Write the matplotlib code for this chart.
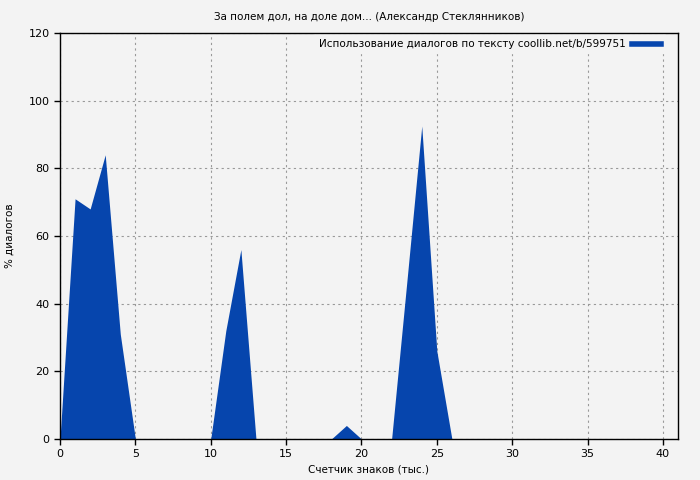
import matplotlib
matplotlib.use("Agg")
import matplotlib.pyplot as plt

# Data
chars_k = list(range(0, 41))
dialog_pct = [0, 71, 68, 84, 31, 0, 0, 0, 0, 0,
              0, 32, 56, 0, 0, 0, 0, 0, 0, 4,
              0, 0, 0, 46, 92.5, 26, 0, 0, 0, 0,
              0, 0, 0, 0, 0, 0, 0, 0, 0, 0, 0]

title = "За полем дол, на доле дом... (Александр Стеклянников)"
legend_label = "Использование диалогов по тексту coollib.net/b/599751"
xticks = [0, 5, 10, 15, 20, 25, 30, 35, 40]
yticks = [0, 20, 40, 60, 80, 100, 120]

bg = "#f3f3f3"
fill_color = "#0645ad"

fig = plt.figure(figsize=(7, 4.8), dpi=100, facecolor=bg)
ax = fig.add_axes([60 / 700, 1 - 439 / 480, 618 / 700, 406 / 480])
ax.set_facecolor(bg)

ax.fill_between(chars_k, dialog_pct, 0, color=fill_color, linewidth=0,
                label=legend_label, zorder=2)

ax.set_xlim(0, 41)
ax.set_ylim(0, 120)
ax.set_xticks(xticks)
ax.set_yticks(yticks)
ax.tick_params(direction="out", length=4, width=1, labelsize=8, colors="black")
ax.grid(True, color="#999999", linestyle=(0, (2, 3)), linewidth=0.8, zorder=1)
for s in ax.spines.values():
    s.set_linewidth(1)
    s.set_color("black")

ax.set_title(title, fontsize=7.5, pad=9)
ax.set_xlabel("Счетчик знаков (тыс.)", fontsize=7.5)
ax.set_ylabel("% диалогов", fontsize=7.5, labelpad=10)

handle = plt.Line2D([], [], color=fill_color, linewidth=4)
leg = ax.legend([handle], [legend_label], loc="upper right", fontsize=7.5,
                frameon=True, facecolor=bg, edgecolor=bg, framealpha=1,
                handlelength=2.8, handletextpad=0.6, borderaxespad=0.2,
                bbox_to_anchor=(1 - 11 / 618, 1),
                markerfirst=False, fancybox=False)
leg.set_zorder(3)

fig.savefig("out.png", dpi=100, facecolor=bg)
